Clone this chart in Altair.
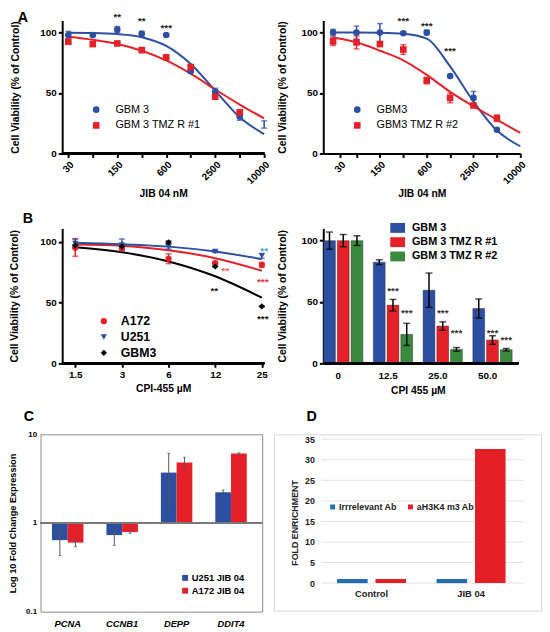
import json
import altair as alt
import pandas as pd

FONT = "Liberation Sans"
BLUE = "#2d4fa1"
RED = "#e42128"
GREEN = "#3a8b3e"
BLACK = "#000000"

# ---------------- Panel A (left) ----------------
a1_names = ["GBM 3", "GBM 3 TMZ R #1"]
a1_ticks = ["30", "70", "150", "300", "600", "1250", "2500", "5000", "10000"]
a1_tick_pos = [0, 1, 2, 3, 4, 5, 6, 7, 8]
a1_blue = [98, 98, 102.5, 99, 98, 68, 51, 30.5, 24]
a1_blue_err = [3, 1, 2.5, 2, 0.5, 1, 3, 3, 3]
a1_blue_shown = [1, 1, 1, 1, 1, 1, 1, 1, 0]
a1_red = [92.5, 90.5, 91, 85.5, 79.5, 71.5, 47, 34]
a1_red_err = [1.5, 1.5, 1, 2, 1.5, 1.5, 2, 2]
a1_blue_fit = [99.8, 99.6, 98.8, 96.2, 89, 74, 52, 30, 16]
a1_red_fit = [96.5, 94, 90.5, 85, 77, 66, 53, 40.5, 29]
a1_star_text = ["**", "**", "***"]
a1_star_x = [2, 3, 4]
a1_star_y = [115, 112, 106]

# ---------------- Panel A (right) ----------------
a2_names = ["GBM3", "GBM3 TMZ R #2"]
a2_ticks = ["30", "70", "150", "300", "600", "1200", "2500", "5000", "10000"]
a2_tick_pos = [0.3, 1, 2, 3, 4, 5, 6, 7, 8]
a2_blue = [100, 100, 100, 99.5, 100, 64, 46, 19.7]
a2_blue_err = [2.7, 5.4, 7.5, 1, 2, 1, 5.4, 1]
a2_red = [92.7, 91.9, 90.5, 86, 60.3, 46, 39.7, 29.2]
a2_red_err = [3.4, 5.4, 1, 4, 2.7, 4, 1, 2.7]
a2_blue_fit = [100, 100, 99.8, 99, 95, 72, 43, 19, 6]
a2_red_fit = [96, 92, 85, 77, 65, 51, 39, 28, 17]
a2_star_text = ["***", "***", "***"]
a2_star_x = [3, 4, 5]
a2_star_y = [112, 108, 87]

# ---------------- Panel B (left) ----------------
b1_names = ["A172", "U251", "GBM3"]
b1_ticks = ["1.5", "3", "6", "12", "25"]
b1_tick_pos = [0, 1, 2, 3, 4]
b1_a172 = [95, 94.6, 86, 82.4, 81]
b1_a172_err = [7, 2, 4, 1, 2]
b1_u251 = [98.6, 97.3, 96, 92, 88.4]
b1_u251_err = [4, 5, 2, 1, 2]
b1_gbm3 = [97, 96, 99.5, 79.7, 46.8]
b1_gbm3_err = [0, 0, 1, 0, 0]
b1_a172_fit = [97.8, 96.8, 93, 86.5, 76.2]
b1_u251_fit = [99.2, 98, 96, 92, 85.7]
b1_gbm3_fit = [95.4, 91.4, 83.8, 71.6, 54]
b1_star_text = ["**", "**", "***", "**", "***"]
b1_star_x = [4.05, 3.22, 4.02, 2.98, 4.02]
b1_star_y = [95, 78, 69, 61.6, 39]
b1_star_color = ["#4a9ee0", "#f0616b", "#e8303a", "#222222", "#111111"]

# ---------------- Panel B (right) ----------------
b2_doses = ["0", "12.5", "25.0", "50.0"]
b2_names = ["GBM 3", "GBM 3 TMZ R #1", "GBM 3 TMZ R #2"]
b2_gbm3 = [100, 82.4, 59.6, 44.7]
b2_gbm3_err = [7, 2, 14, 7.8]
b2_tmz1 = [100, 47.4, 30.4, 19]
b2_tmz1_err = [5, 4.7, 3.4, 3.5]
b2_tmz2 = [100, 23.6, 11.4, 11.1]
b2_tmz2_err = [4, 9, 1.5, 1]
b2_star_dose = ["12.5", "12.5", "25.0", "25.0", "50.0", "50.0"]
b2_star_series = ["GBM 3 TMZ R #1", "GBM 3 TMZ R #2"] * 3
b2_star_y = [61.5, 43.6, 43.6, 27.4, 27.4, 21.7]

# ---------------- Panel C ----------------
c_genes = ["PCNA", "CCNB1", "DEPP", "DDIT4"]
c_names = ["U251 JIB 04", "A172 JIB 04"]
c_u251 = [0.64, 0.73, 3.7, 2.22]
c_u251_lo = [0.43, 0.56, 1.47, 2.09]
c_u251_hi = [0.87, 0.88, 6.1, 2.36]
c_a172 = [0.60, 0.79, 4.8, 6.08]
c_a172_lo = [0.54, 0.76, 4.2, 5.9]
c_a172_hi = [0.66, 0.84, 5.5, 6.2]

# ---------------- Panel D ----------------
d_groups = ["Control", "JIB 04"]
d_names = ["Irrrelevant Ab", "aH3K4 m3 Ab"]
d_irr = [1, 1]
d_h3k4 = [1, 32.6]
d_ticks = [0, 5, 10, 15, 20, 25, 30, 35]

panel_letters = ["A", "B", "C", "D"]


def letter(text, dx, dy):
    return alt.Chart(pd.DataFrame({"t": [text]})).mark_text(
        align="left", baseline="top", fontSize=14.5, fontWeight="bold", font=FONT,
        color="black").encode(x=alt.value(dx), y=alt.value(dy), text="t:N")


def gp_axis(**kw):
    base = dict(grid=False, domainColor="black", domainWidth=2, tickColor="black",
                tickWidth=2, tickSize=4, labelFontSize=10, labelFontWeight="bold",
                labelColor="black", labelFont=FONT, labelPadding=2,
                titleFontSize=10.5, titleFontWeight="bold", titleColor="black",
                titleFont=FONT)
    base.update(kw)
    return alt.Axis(**base)


def point_rows(key, name, values, errs, shown=None):
    rows = []
    for i, v in enumerate(values):
        e = errs[i]
        rows.append({"x": i, "y": v, "lo": v - e, "hi": v + e, key: name,
                     "shown": 1 if shown is None else shown[i]})
    return rows


def fit_rows(key, name, values):
    return [{"x": i, "y": v, key: name} for i, v in enumerate(values)]


def dose_panel(key, names, colors, shapes, size, pts, fits, stars, ticks, tick_pos,
               xdom, ydom, width, height, xtitle, ytitle, ytp, xtp, angle,
               legend, lpad=0, extra=None, star_size=10):
    cs = alt.Scale(domain=names, range=colors)
    ss = alt.Scale(domain=names, range=shapes)
    full_w = width + lpad
    xs = alt.Scale(domain=xdom, range=[lpad, full_w], nice=False, zero=False)
    ys = alt.Scale(domain=ydom, nice=False, zero=False)
    xaxis = gp_axis(values=tick_pos, labelExpr=json.dumps(ticks) + "[round(datum.value)]",
                    title=xtitle, labelAngle=angle, titlePadding=xtp, domain=(lpad == 0))
    yaxis = gp_axis(values=[0, 50, 100], title=ytitle, titlePadding=ytp, format="d",
                    offset=-lpad)
    legend = dict(legend)
    legend["legendX"] = legend["legendX"] + lpad
    leg = alt.Legend(**legend)

    def X(f):
        return alt.X(f, type="quantitative", scale=xs, axis=xaxis)

    def Y(f):
        return alt.Y(f, type="quantitative", scale=ys, axis=yaxis)

    col = alt.Color(key + ":N", scale=cs, legend=leg, sort=names)
    shp = alt.Shape(key + ":N", scale=ss, legend=leg, sort=names)
    pdf = pd.DataFrame(pts)
    fdf = pd.DataFrame(fits)
    layers = []
    if lpad:
        layers.append(alt.Chart(pdf).mark_rule(color="black", strokeWidth=2).encode(
            x=alt.X(datum=xdom[0], type="quantitative", scale=xs, axis=xaxis),
            x2=alt.datum(xdom[1]),
            y=alt.Y(datum=ydom[0], type="quantitative", scale=ys, axis=yaxis)))
    layers.append(alt.Chart(fdf).mark_line(strokeWidth=2, interpolate="monotone").encode(
        x=X("x"), y=Y("y"), color=col))
    layers.append(alt.Chart(pdf).mark_rule(strokeWidth=1.5).encode(
        x=X("x"), y=Y("lo"), y2=alt.Y2("hi"), color=col))
    for f in ["lo", "hi"]:
        layers.append(alt.Chart(pdf).mark_tick(orient="horizontal", size=6,
                                               thickness=1.5).encode(
            x=X("x"), y=Y(f), color=col))
    layers.append(alt.Chart(pdf).transform_filter("datum.shown == 1").mark_point(
        filled=True, opacity=1, size=size).encode(
        x=X("x"), y=Y("y"), color=col, shape=shp))
    layers.append(alt.Chart(stars).mark_text(fontSize=star_size, fontWeight="bold",
                                             font=FONT, baseline="middle", dy=3).encode(
        x=X("x"), y=Y("y"), text="t:N", color=alt.Color("c_" + key + ":N", scale=None)))
    if extra is not None:
        layers.append(extra)
    return alt.layer(*layers).properties(width=full_w, height=height)


LPAD = 22

# ---- Panel A left
a1_pts = point_rows("sA1", a1_names[0], a1_blue, a1_blue_err, a1_blue_shown) + \
    point_rows("sA1", a1_names[1], a1_red, a1_red_err)
a1_fits = fit_rows("sA1", a1_names[0], a1_blue_fit) + fit_rows("sA1", a1_names[1], a1_red_fit)
a1_stars = pd.DataFrame({"x": a1_star_x, "y": a1_star_y, "t": a1_star_text,
                         "c_sA1": ["#222222"] * 3})
legA = dict(orient="none", legendX=29, legendY=85, title=None, labelFontSize=11,
            labelFont=FONT, labelColor="black", symbolSize=45, rowPadding=4,
            labelOffset=14, padding=0, symbolStrokeWidth=0, symbolOpacity=1)
A1 = dose_panel("sA1", a1_names, [BLUE, RED], ["circle", "square"], 45, a1_pts, a1_fits,
                a1_stars, a1_ticks, a1_tick_pos, [-0.25, 8], [0, 110], 205, 135,
                "JIB 04 nM", "Cell Viability (% of Control)", 20, 3, -45, legA,
                lpad=LPAD, extra=letter(panel_letters[0], -23, -9))

# ---- Panel A right
a2_pts = point_rows("sA2", a2_names[0], a2_blue, a2_blue_err) + \
    point_rows("sA2", a2_names[1], a2_red, a2_red_err)
a2_fits = fit_rows("sA2", a2_names[0], a2_blue_fit) + fit_rows("sA2", a2_names[1], a2_red_fit)
a2_stars = pd.DataFrame({"x": a2_star_x, "y": a2_star_y, "t": a2_star_text,
                         "c_sA2": ["#222222"] * 3})
A2 = dose_panel("sA2", a2_names, [BLUE, RED], ["circle", "square"], 45, a2_pts, a2_fits,
                a2_stars, a2_ticks, a2_tick_pos, [-0.42, 8], [0, 110], 200, 135,
                "JIB 04 nM", "Cell Viability (% of Control)", 14, 3, -45, legA)

# ---- Panel B left
b1_pts = point_rows("sB1", b1_names[0], b1_a172, b1_a172_err) + \
    point_rows("sB1", b1_names[1], b1_u251, b1_u251_err) + \
    point_rows("sB1", b1_names[2], b1_gbm3, b1_gbm3_err)
b1_fits = fit_rows("sB1", b1_names[0], b1_a172_fit) + \
    fit_rows("sB1", b1_names[1], b1_u251_fit) + fit_rows("sB1", b1_names[2], b1_gbm3_fit)
b1_stars = pd.DataFrame({"x": b1_star_x, "y": b1_star_y, "t": b1_star_text,
                         "c_sB1": b1_star_color})
legB = dict(orient="none", legendX=36, legendY=88, title=None, labelFontSize=12.5,
            labelFontWeight="bold", labelFont=FONT, labelColor="black", symbolSize=40,
            rowPadding=3, labelOffset=11, padding=0, symbolStrokeWidth=0, symbolOpacity=1)
B1 = dose_panel("sB1", b1_names, [RED, BLUE, BLACK], ["circle", "triangle-down", "diamond"],
                40, b1_pts, b1_fits, b1_stars, b1_ticks, b1_tick_pos, [-0.28, 4.05],
                [0, 111], 205, 137, "CPI-455 µM", "Cell Viability (% of Control)", 21, 5, 0,
                legB, lpad=LPAD, extra=letter(panel_letters[1], -18, -16.5))

# ---- Panel B right
b2_rows = []
for name, vals, errs in zip(b2_names, [b2_gbm3, b2_tmz1, b2_tmz2],
                            [b2_gbm3_err, b2_tmz1_err, b2_tmz2_err]):
    for d, v, e in zip(b2_doses, vals, errs):
        b2_rows.append({"d": d, "sB2": name, "v": v, "lo": v - e, "hi": v + e})
b2_df = pd.DataFrame(b2_rows)
b2_star_df = pd.DataFrame({"d": b2_star_dose, "sB2": b2_star_series, "y": b2_star_y,
                           "t": ["***"] * 6})
b2_xs = alt.Scale(domain=b2_doses, range=[-5, 197], paddingInner=0, paddingOuter=0)
b2_xo = alt.Scale(domain=b2_names, paddingInner=0.143, paddingOuter=0.382)
b2_ys = alt.Scale(domain=[0, 110], nice=False)
b2_xaxis = gp_axis(title="CPI 455 µM", labelAngle=0, domain=False, ticks=False,
                   labelFontSize=10, labelOffset=-5, labelPadding=7, titlePadding=6)
b2_yaxis = gp_axis(values=[0, 50, 100], title="Cell Viability (% of Control)",
                   titlePadding=14, format="d")
b2_cs = alt.Scale(domain=b2_names, range=[BLUE, RED, GREEN])
b2_leg = alt.Legend(orient="none", legendX=68, legendY=-8, title=None,
                    labelFontSize=11, labelFontWeight="bold", labelFont=FONT,
                    labelColor="black", symbolType="M-1,-0.667H1V0.667H-1Z",
                    symbolSize=225, symbolStrokeWidth=0, symbolOpacity=1,
                    rowPadding=1.5, labelOffset=7, padding=0)
BX = alt.X("d:N", scale=b2_xs, axis=b2_xaxis, sort=b2_doses)
BXO = alt.XOffset("sB2:N", scale=b2_xo, sort=b2_names)
b2_bars = alt.Chart(b2_df).mark_bar(stroke="#1a1a1a", strokeWidth=0.6, strokeOpacity=0.7).encode(
    x=BX, xOffset=BXO, y=alt.Y("v:Q", scale=b2_ys, axis=b2_yaxis, stack=None),
    color=alt.Color("sB2:N", scale=b2_cs, legend=b2_leg, sort=b2_names))
b2_err = alt.Chart(b2_df).mark_rule(color="black", strokeWidth=1.5).encode(
    x=BX, xOffset=BXO, y=alt.Y("lo:Q", scale=b2_ys, axis=b2_yaxis), y2="hi:Q")
b2_cap1 = alt.Chart(b2_df).mark_tick(color="black", orient="horizontal", size=7,
                                     thickness=1.5).encode(
    x=BX, xOffset=BXO, y=alt.Y("lo:Q", scale=b2_ys, axis=b2_yaxis))
b2_cap2 = alt.Chart(b2_df).mark_tick(color="black", orient="horizontal", size=7,
                                     thickness=1.5).encode(
    x=BX, xOffset=BXO, y=alt.Y("hi:Q", scale=b2_ys, axis=b2_yaxis))
b2_base = alt.Chart(b2_df).mark_rule(color="black", strokeWidth=2).encode(
    y=alt.datum(0, scale=b2_ys))
b2_star = alt.Chart(b2_star_df).mark_text(fontSize=10, fontWeight="bold", font=FONT,
                                          color="#333333", baseline="middle", dy=3).encode(
    x=BX, xOffset=BXO, y=alt.Y("y:Q", scale=b2_ys, axis=b2_yaxis), text="t:N")
B2 = alt.layer(b2_bars, b2_err, b2_cap1, b2_cap2, b2_base, b2_star).properties(
    width=198, height=137)

# ---- Panel C
c_rows = []
for name, vals, los, his in zip(c_names, [c_u251, c_a172], [c_u251_lo, c_a172_lo],
                                [c_u251_hi, c_a172_hi]):
    for g, v, lo, hi in zip(c_genes, vals, los, his):
        c_rows.append({"g": g, "sC": name, "v": v, "lo": lo, "hi": hi, "b": 1})
c_df = pd.DataFrame(c_rows)
c_xs = alt.Scale(domain=c_genes, range=[0, 221], paddingInner=0, paddingOuter=0)
c_xo = alt.Scale(domain=c_names, paddingInner=0, paddingOuter=0.73)
c_ys = alt.Scale(type="log", domain=[0.1, 10], nice=False)
c_xaxis = alt.Axis(title=None, domain=False, ticks=False, labelFontSize=9.5,
                   labelFontWeight="bold", labelFontStyle="italic", labelColor="black",
                   labelFont=FONT, labelPadding=7, labelAngle=0)
c_yaxis = alt.Axis(title="Log 10 Fold Change Expression", values=[0.1, 1, 10], format="~g",
                   domain=False, ticks=False, grid=False, labelFontSize=8,
                   labelFontWeight="bold", labelColor="black", labelFont=FONT,
                   labelPadding=4, titleFontSize=9.3, titleFontWeight="bold",
                   titleColor="black", titleFont=FONT, titlePadding=8)
c_cs = alt.Scale(domain=c_names, range=[BLUE, RED])
c_leg = alt.Legend(orient="none", legendX=142, legendY=141, title=None, labelFontSize=9.5,
                   labelFontWeight="bold", labelFont=FONT, labelColor="black",
                   symbolType="square", symbolSize=36, symbolStrokeWidth=0,
                   symbolOpacity=1, rowPadding=2, labelOffset=2, padding=0)
CX = alt.X("g:N", scale=c_xs, axis=c_xaxis, sort=c_genes)
CXO = alt.XOffset("sC:N", scale=c_xo, sort=c_names)
c_bars = alt.Chart(c_df).mark_bar().encode(
    x=CX, xOffset=CXO, y=alt.Y("v:Q", scale=c_ys, axis=c_yaxis), y2="b:Q",
    color=alt.Color("sC:N", scale=c_cs, legend=c_leg, sort=c_names))
c_err = alt.Chart(c_df).mark_rule(color="#555555", strokeWidth=1).encode(
    x=CX, xOffset=CXO, y=alt.Y("lo:Q", scale=c_ys, axis=c_yaxis), y2="hi:Q")
c_cap1 = alt.Chart(c_df).mark_tick(color="#555555", orient="horizontal", size=3,
                                   thickness=1).encode(
    x=CX, xOffset=CXO, y=alt.Y("lo:Q", scale=c_ys, axis=c_yaxis))
c_cap2 = alt.Chart(c_df).mark_tick(color="#555555", orient="horizontal", size=3,
                                   thickness=1).encode(
    x=CX, xOffset=CXO, y=alt.Y("hi:Q", scale=c_ys, axis=c_yaxis))
c_one = alt.Chart(c_df).mark_rule(color="#7a7a7a", strokeWidth=1.5).encode(
    y=alt.datum(1, scale=c_ys))
C = alt.layer(c_bars, c_err, c_cap1, c_cap2, c_one,
              letter(panel_letters[2], -17, -25)).properties(
    width=225, height=180, view=alt.ViewBackground(stroke="#8a8a8a", strokeWidth=1))

# ---- Panel D
d_rows = []
for name, vals in zip(d_names, [d_irr, d_h3k4]):
    for g, v in zip(d_groups, vals):
        d_rows.append({"g": g, "sD": name, "v": v})
d_df = pd.DataFrame(d_rows)
d_grid = pd.DataFrame({"t": d_ticks})
d_xs = alt.Scale(domain=d_groups, range=[48.5, 250.5], paddingInner=0, paddingOuter=0)
d_xo = alt.Scale(domain=d_names, paddingInner=0.205, paddingOuter=0.397)
d_ys = alt.Scale(domain=[-6.7, 36.2], nice=False, zero=False)
d_xaxis = alt.Axis(title=None, domain=False, ticks=False, labelFontSize=9.5,
                   labelFontWeight="bold", labelColor="#222222", labelFont=FONT,
                   labelPadding=6, labelAngle=0, offset=-28)
d_yaxis = alt.Axis(title="FOLD ENRICHMENT", values=d_ticks, domain=False, ticks=False,
                   grid=False, labelFontSize=9, labelFontWeight="bold",
                   labelColor="#222222", labelFont=FONT, labelPadding=3,
                   titleFontSize=9, titleFontWeight="bold", titleColor="#222222",
                   titleFont=FONT, titlePadding=5, offset=-44)
d_cs = alt.Scale(domain=d_names, range=["#1f6db5", "#e41e26"])
d_leg = alt.Legend(orient="none", direction="horizontal", legendX=55, legendY=69,
                   title=None, labelFontSize=9, labelFontWeight="bold", labelFont=FONT,
                   labelColor="#222222", symbolType="square", symbolSize=25,
                   symbolStrokeWidth=0, symbolOpacity=1, columnPadding=9,
                   labelOffset=2, padding=0)
d_gridlines = alt.Chart(d_grid).mark_rule(color="#e2e2e2", strokeWidth=1).encode(
    y=alt.Y("t:Q", scale=d_ys, axis=d_yaxis), x=alt.value(48), x2=alt.value(253))
d_bars = alt.Chart(d_df).mark_bar().encode(
    x=alt.X("g:N", scale=d_xs, axis=d_xaxis, sort=d_groups),
    xOffset=alt.XOffset("sD:N", scale=d_xo, sort=d_names),
    y=alt.Y("v:Q", scale=d_ys, axis=d_yaxis, stack=None), y2=alt.datum(0),
    color=alt.Color("sD:N", scale=d_cs, legend=d_leg, sort=d_names))
D = alt.layer(d_gridlines, d_bars, letter(panel_letters[3], 33, -25)).properties(
    width=271, height=179, view=alt.ViewBackground(stroke="#d9d9d9", strokeWidth=1))

IND = dict(color="independent", shape="independent", xOffset="independent",
           x="independent", y="independent")
row1 = alt.hconcat(A1, A2, spacing=60, bounds="flush").resolve_scale(**IND)
row2 = alt.hconcat(B1, B2, spacing=60, bounds="flush").resolve_scale(**IND)
row3 = alt.hconcat(C, D, spacing=12, bounds="flush").resolve_scale(**IND)

chart = alt.vconcat(row1, row2, row3, spacing=11).resolve_scale(**IND).properties(
    padding={"top": -2, "left": 0, "right": 0, "bottom": 0}).configure(
    font=FONT).configure_view(stroke=None)

chart.save("out.html", embed_options={"renderer": "svg", "actions": False})
